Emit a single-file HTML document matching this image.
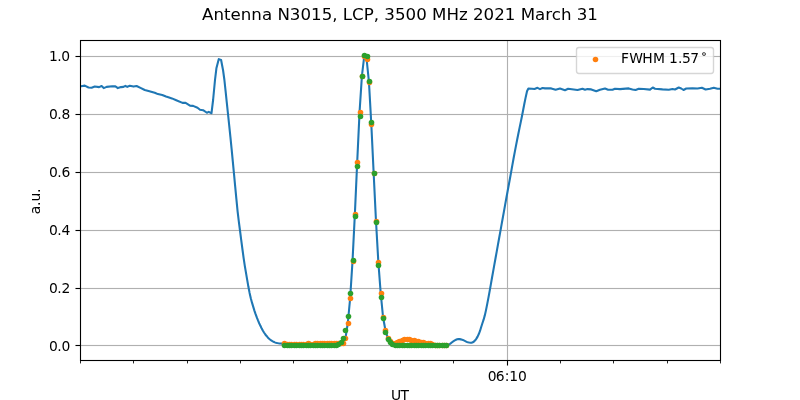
<!DOCTYPE html>
<html lang="en"><head><meta charset="utf-8"><title>Antenna N3015, LCP, 3500 MHz 2021 March 31</title>
<style>html,body{margin:0;padding:0;background:#fff;overflow:hidden}svg{display:block}</style></head>
<body>
<svg width="800" height="400" viewBox="0 0 800 400">
<clipPath id="ax"><rect x="80" y="40" width="640" height="320"/></clipPath>
<rect width="800" height="400" fill="#ffffff"/>
<g><rect x="506" y="40" width="3" height="320" fill="#b0b0b0" fill-opacity="0.063"/><rect x="507" y="40" width="1" height="320" fill="#b0b0b0"/><rect x="80" y="344" width="640" height="3" fill="#b0b0b0" fill-opacity="0.063"/><rect x="80" y="345" width="640" height="1" fill="#b0b0b0"/><rect x="80" y="287" width="640" height="3" fill="#b0b0b0" fill-opacity="0.063"/><rect x="80" y="288" width="640" height="1" fill="#b0b0b0"/><rect x="80" y="229" width="640" height="3" fill="#b0b0b0" fill-opacity="0.063"/><rect x="80" y="230" width="640" height="1" fill="#b0b0b0"/><rect x="80" y="171" width="640" height="3" fill="#b0b0b0" fill-opacity="0.063"/><rect x="80" y="172" width="640" height="1" fill="#b0b0b0"/><rect x="80" y="113" width="640" height="3" fill="#b0b0b0" fill-opacity="0.063"/><rect x="80" y="114" width="640" height="1" fill="#b0b0b0"/><rect x="80" y="55" width="640" height="3" fill="#b0b0b0" fill-opacity="0.063"/><rect x="80" y="56" width="640" height="1" fill="#b0b0b0"/></g>
<g><rect x="80" y="361" width="1" height="2.42" fill="#000" fill-opacity="0.85"/><rect x="133" y="361" width="1" height="2.42" fill="#000" fill-opacity="0.85"/><rect x="187" y="361" width="1" height="2.42" fill="#000" fill-opacity="0.85"/><rect x="240" y="361" width="1" height="2.42" fill="#000" fill-opacity="0.85"/><rect x="293" y="361" width="1" height="2.42" fill="#000" fill-opacity="0.85"/><rect x="347" y="361" width="1" height="2.42" fill="#000" fill-opacity="0.85"/><rect x="400" y="361" width="1" height="2.42" fill="#000" fill-opacity="0.85"/><rect x="453" y="361" width="1" height="2.42" fill="#000" fill-opacity="0.85"/><rect x="507" y="361" width="1" height="4.5" fill="#000"/><rect x="506" y="361" width="3" height="4.5" fill="#000" fill-opacity="0.055"/><rect x="560" y="361" width="1" height="2.42" fill="#000" fill-opacity="0.85"/><rect x="613" y="361" width="1" height="2.42" fill="#000" fill-opacity="0.85"/><rect x="667" y="361" width="1" height="2.42" fill="#000" fill-opacity="0.85"/><rect x="720" y="361" width="1" height="2.42" fill="#000" fill-opacity="0.85"/><rect x="75.5" y="345" width="4.5" height="1" fill="#000"/><rect x="75.5" y="344" width="4.5" height="3" fill="#000" fill-opacity="0.055"/><rect x="75.5" y="288" width="4.5" height="1" fill="#000"/><rect x="75.5" y="287" width="4.5" height="3" fill="#000" fill-opacity="0.055"/><rect x="75.5" y="230" width="4.5" height="1" fill="#000"/><rect x="75.5" y="229" width="4.5" height="3" fill="#000" fill-opacity="0.055"/><rect x="75.5" y="172" width="4.5" height="1" fill="#000"/><rect x="75.5" y="171" width="4.5" height="3" fill="#000" fill-opacity="0.055"/><rect x="75.5" y="114" width="4.5" height="1" fill="#000"/><rect x="75.5" y="113" width="4.5" height="3" fill="#000" fill-opacity="0.055"/><rect x="75.5" y="56" width="4.5" height="1" fill="#000"/><rect x="75.5" y="55" width="4.5" height="3" fill="#000" fill-opacity="0.055"/></g>
<g clip-path="url(#ax)"><polyline points="79,86.3 81,86.25 84.75,85.6 88.5,87.5 91.6,87.75 94.75,86.5 99.1,87.1 101.6,86 103.75,88.1 106.6,86.9 112.25,86.25 115.4,86.4 117.9,88.1 121,87.1 123.5,86.9 125.4,85.9 127.25,86.9 129.75,85.75 133.5,86.6 136.6,86 141,88.1 144.75,90 148.5,91 154.75,92.75 157.9,94.1 162.25,95 166,96.5 169.1,97.5 171.9,98.4 176.25,100.25 182.5,102.9 185.6,102.9 190,105.6 193.1,105.9 197.5,107.75 200,109.75 203.1,110.2 206.9,112.75 208.75,111.9 211.5,113.2 213.1,100 215,80 216.4,68.3 218.8,59.1 221.1,60 223.1,70.5 224.4,80 225.6,91.23 226.8,102.58 228,114 229.2,125.38 230.4,136.96 231.6,148.93 232.8,161.3 234,173.95 235.2,186.65 236.4,199.15 237.6,211.34 238.8,221.49 240,230.5 241.2,239.85 242.4,249 243.6,257.83 244.8,265.9 246,272.94 247.2,279.84 248.4,286.81 249.6,292.92 250.8,298.2 252,302.65 253.2,306.67 254.4,310.57 255.6,314.15 256.8,317.41 258,320.44 259.2,323.26 260.4,325.83 261.6,328.25 262.8,330.5 264,332.5 265.2,334.25 266.4,335.79 267.6,337.17 268.8,338.43 270,339.5 271.2,340.4 272.4,341.17 273.6,341.81 274.8,342.38 276,342.8 277.2,343.1 278.4,343.33 279.6,343.46 280.8,343.56 282,343.6 284.44,343 286.79,344 289.13,344 291.48,344 293.83,344 296.18,344 298.52,344 300.87,344 303.22,344 305.57,344 307.91,343 310.26,344 312.61,344 314.96,343 317.3,343 319.65,343 322,343 324.35,343 326.69,343 329.04,343 331.39,343 333.74,343 336.09,343 338.43,343 340.78,343 343.13,343 345.48,338 347.82,323 350.17,298 352.52,261 354.87,214 357.21,162 359.56,112 361.91,76 364.26,56 366.6,59 368.95,82 371.3,124 373.65,173 375.99,221 378.34,262 380.69,293 383.04,317 385.38,330 387.73,338 390.08,341 392.43,343 394.78,343 397.12,342 399.47,341 401.82,340 404.17,339 406.51,339 408.86,339 411.21,340 413.56,340 415.9,341 418.25,341 420.6,342 422.95,342 425.29,343 427.64,343 429.99,343 432.34,344 434.68,345 437.03,345 439.38,345 441.73,345 444.07,345 446.42,345 447.6,344.85 448.8,344.47 450,343.92 451.2,342.94 452.4,342.03 453.6,341.16 454.8,340.41 456,339.8 457.2,339.29 458.4,339 459.6,339.11 460.8,339.36 462,339.66 463.2,340.08 464.4,340.68 465.6,341.32 466.8,341.93 468,342.29 469.2,342.54 470.4,342.76 471.6,342.71 472.8,342.27 474,341.5 475.2,340.28 476.4,338.65 477.6,336.6 478.8,334.06 480,330.99 481.2,327.04 482.4,323.29 483.6,319.67 484.8,315.4 486,310.12 487.2,304.13 488.4,297.91 489.6,291.38 490.8,284.61 492,277.8 493.2,271.11 494.4,264.44 495.6,257.78 496.8,251.11 498,244.44 499.2,237.78 500.4,231.11 501.6,224.44 502.8,217.78 504,211.1 505.2,204.41 506.4,197.75 507.6,191.19 508.8,184.73 510,178.27 511.2,171.68 512.4,164.94 513.6,158.25 514.8,151.82 516,145.6 517.2,139.51 518.4,133.51 519.6,127.66 520.8,121.88 522,116 523.2,109.81 524.4,103.5 525.6,97.63 526.8,92.18 527,91.3 528.4,88.5 532,88.7 534.5,89 537.5,87.8 540,89.1 542.5,88 545,88.4 551.25,88.4 555.6,89.75 560,88.5 565,90.25 568.1,88.75 577.5,90 582.5,88.75 585,89.75 587.5,89.1 591.25,89.4 596.25,91.25 600,89.75 605,88.5 608.1,89.75 612.5,89.75 615,88.75 620,89.1 628.75,88.4 632.5,89.4 635.6,90 638.75,88.75 643.75,89 650,89.6 652.75,87.5 655,88.75 662.5,89.4 668.75,89.75 672.5,89 675,89.5 678.75,87.5 681.25,88.5 683.5,90 686.25,88.5 692.5,88.25 697.5,88.5 701.9,87.75 705.6,89.5 710,88.75 713.75,87.75 717.5,88.75 722,88.75" fill="none" stroke="#1f77b4" stroke-width="2.083" stroke-linejoin="round" stroke-linecap="square"/>
<g fill="#ff7f0e"><circle cx="284.5" cy="343.5" r="2.78"/><circle cx="287.5" cy="344.5" r="2.78"/><circle cx="289.5" cy="344.5" r="2.78"/><circle cx="291.5" cy="344.5" r="2.78"/><circle cx="294.5" cy="344.5" r="2.78"/><circle cx="296.5" cy="344.5" r="2.78"/><circle cx="299.5" cy="344.5" r="2.78"/><circle cx="301.5" cy="344.5" r="2.78"/><circle cx="303.5" cy="344.5" r="2.78"/><circle cx="306.5" cy="344.5" r="2.78"/><circle cx="308.5" cy="343.5" r="2.78"/><circle cx="310.5" cy="344.5" r="2.78"/><circle cx="313.5" cy="344.5" r="2.78"/><circle cx="315.5" cy="343.5" r="2.78"/><circle cx="317.5" cy="343.5" r="2.78"/><circle cx="320.5" cy="343.5" r="2.78"/><circle cx="322.5" cy="343.5" r="2.78"/><circle cx="324.5" cy="343.5" r="2.78"/><circle cx="327.5" cy="343.5" r="2.78"/><circle cx="329.5" cy="343.5" r="2.78"/><circle cx="331.5" cy="343.5" r="2.78"/><circle cx="334.5" cy="343.5" r="2.78"/><circle cx="336.5" cy="343.5" r="2.78"/><circle cx="338.5" cy="343.5" r="2.78"/><circle cx="341.5" cy="343.5" r="2.78"/><circle cx="343.5" cy="343.5" r="2.78"/><circle cx="345.5" cy="338.5" r="2.78"/><circle cx="348.5" cy="323.5" r="2.78"/><circle cx="350.5" cy="298.5" r="2.78"/><circle cx="353.5" cy="261.5" r="2.78"/><circle cx="355.5" cy="214.5" r="2.78"/><circle cx="357.5" cy="162.5" r="2.78"/><circle cx="360.5" cy="112.5" r="2.78"/><circle cx="362.5" cy="76.5" r="2.78"/><circle cx="364.5" cy="56.5" r="2.78"/><circle cx="367.5" cy="59.5" r="2.78"/><circle cx="369.5" cy="82.5" r="2.78"/><circle cx="371.5" cy="124.5" r="2.78"/><circle cx="374.5" cy="173.5" r="2.78"/><circle cx="376.5" cy="221.5" r="2.78"/><circle cx="378.5" cy="262.5" r="2.78"/><circle cx="381.5" cy="293.5" r="2.78"/><circle cx="383.5" cy="317.5" r="2.78"/><circle cx="385.5" cy="330.5" r="2.78"/><circle cx="388.5" cy="338.5" r="2.78"/><circle cx="390.5" cy="341.5" r="2.78"/><circle cx="392.5" cy="343.5" r="2.78"/><circle cx="395.5" cy="343.5" r="2.78"/><circle cx="397.5" cy="342.5" r="2.78"/><circle cx="399.5" cy="341.5" r="2.78"/><circle cx="402.5" cy="340.5" r="2.78"/><circle cx="404.5" cy="339.5" r="2.78"/><circle cx="407.5" cy="339.5" r="2.78"/><circle cx="409.5" cy="339.5" r="2.78"/><circle cx="411.5" cy="340.5" r="2.78"/><circle cx="414.5" cy="340.5" r="2.78"/><circle cx="416.5" cy="341.5" r="2.78"/><circle cx="418.5" cy="341.5" r="2.78"/><circle cx="421.5" cy="342.5" r="2.78"/><circle cx="423.5" cy="342.5" r="2.78"/><circle cx="425.5" cy="343.5" r="2.78"/><circle cx="428.5" cy="343.5" r="2.78"/><circle cx="430.5" cy="343.5" r="2.78"/><circle cx="432.5" cy="344.5" r="2.78"/><circle cx="435.5" cy="345.5" r="2.78"/><circle cx="437.5" cy="345.5" r="2.78"/><circle cx="439.5" cy="345.5" r="2.78"/><circle cx="442.5" cy="345.5" r="2.78"/><circle cx="444.5" cy="345.5" r="2.78"/><circle cx="446.5" cy="345.5" r="2.78"/></g>
<g fill="#2ca02c"><circle cx="284.5" cy="345.5" r="2.78"/><circle cx="287.5" cy="345.5" r="2.78"/><circle cx="289.5" cy="345.5" r="2.78"/><circle cx="291.5" cy="345.5" r="2.78"/><circle cx="294.5" cy="345.5" r="2.78"/><circle cx="296.5" cy="345.5" r="2.78"/><circle cx="299.5" cy="345.5" r="2.78"/><circle cx="301.5" cy="345.5" r="2.78"/><circle cx="303.5" cy="345.5" r="2.78"/><circle cx="306.5" cy="345.5" r="2.78"/><circle cx="308.5" cy="345.5" r="2.78"/><circle cx="310.5" cy="345.5" r="2.78"/><circle cx="313.5" cy="345.5" r="2.78"/><circle cx="315.5" cy="345.5" r="2.78"/><circle cx="317.5" cy="345.5" r="2.78"/><circle cx="320.5" cy="345.5" r="2.78"/><circle cx="322.5" cy="345.5" r="2.78"/><circle cx="324.5" cy="345.5" r="2.78"/><circle cx="327.5" cy="345.5" r="2.78"/><circle cx="329.5" cy="345.5" r="2.78"/><circle cx="331.5" cy="345.5" r="2.78"/><circle cx="334.5" cy="345.5" r="2.78"/><circle cx="336.5" cy="345.5" r="2.78"/><circle cx="338.5" cy="344.5" r="2.78"/><circle cx="341.5" cy="342.5" r="2.78"/><circle cx="343.5" cy="338.5" r="2.78"/><circle cx="345.5" cy="330.5" r="2.78"/><circle cx="348.5" cy="316.5" r="2.78"/><circle cx="350.5" cy="293.5" r="2.78"/><circle cx="353.5" cy="260.5" r="2.78"/><circle cx="355.5" cy="216.5" r="2.78"/><circle cx="357.5" cy="166.5" r="2.78"/><circle cx="360.5" cy="116.5" r="2.78"/><circle cx="362.5" cy="76.5" r="2.78"/><circle cx="364.5" cy="55.5" r="2.78"/><circle cx="367.5" cy="56.5" r="2.78"/><circle cx="369.5" cy="81.5" r="2.78"/><circle cx="371.5" cy="122.5" r="2.78"/><circle cx="374.5" cy="173.5" r="2.78"/><circle cx="376.5" cy="222.5" r="2.78"/><circle cx="378.5" cy="265.5" r="2.78"/><circle cx="381.5" cy="297.5" r="2.78"/><circle cx="383.5" cy="318.5" r="2.78"/><circle cx="385.5" cy="332.5" r="2.78"/><circle cx="388.5" cy="339.5" r="2.78"/><circle cx="390.5" cy="342.5" r="2.78"/><circle cx="392.5" cy="344.5" r="2.78"/><circle cx="395.5" cy="345.5" r="2.78"/><circle cx="397.5" cy="345.5" r="2.78"/><circle cx="399.5" cy="345.5" r="2.78"/><circle cx="402.5" cy="345.5" r="2.78"/><circle cx="404.5" cy="345.5" r="2.78"/><circle cx="407.5" cy="345.5" r="2.78"/><circle cx="409.5" cy="345.5" r="2.78"/><circle cx="411.5" cy="345.5" r="2.78"/><circle cx="414.5" cy="345.5" r="2.78"/><circle cx="416.5" cy="345.5" r="2.78"/><circle cx="418.5" cy="345.5" r="2.78"/><circle cx="421.5" cy="345.5" r="2.78"/><circle cx="423.5" cy="345.5" r="2.78"/><circle cx="425.5" cy="345.5" r="2.78"/><circle cx="428.5" cy="345.5" r="2.78"/><circle cx="430.5" cy="345.5" r="2.78"/><circle cx="432.5" cy="345.5" r="2.78"/><circle cx="435.5" cy="345.5" r="2.78"/><circle cx="437.5" cy="345.5" r="2.78"/><circle cx="439.5" cy="345.5" r="2.78"/><circle cx="442.5" cy="345.5" r="2.78"/><circle cx="444.5" cy="345.5" r="2.78"/><circle cx="446.5" cy="345.5" r="2.78"/></g>
</g>
<g><rect x="79" y="40" width="3" height="321" fill="#000" fill-opacity="0.055"/><rect x="80" y="40" width="1" height="321" fill="#000"/><rect x="719" y="40" width="3" height="321" fill="#000" fill-opacity="0.055"/><rect x="720" y="40" width="1" height="321" fill="#000"/><rect x="80" y="39" width="641" height="3" fill="#000" fill-opacity="0.055"/><rect x="80" y="40" width="641" height="1" fill="#000"/><rect x="80" y="359" width="641" height="3" fill="#000" fill-opacity="0.055"/><rect x="80" y="360" width="641" height="1" fill="#000"/></g>
<rect x="576.5" y="47.5" width="137" height="26" rx="2.4" ry="2.4" fill="#ffffff" fill-opacity="0.8" stroke="#cccccc" stroke-opacity="0.8" stroke-width="1.389"/>
<circle cx="595.5" cy="59.5" r="2.78" fill="#ff7f0e"/>
<g font-family="'DejaVu Sans','Liberation Sans',sans-serif" fill="#000"><text x="400" y="20" font-size="16.667px" text-anchor="middle">Antenna N3015, LCP, 3500 MHz 2021 March 31</text><text x="48.94 57.15 61.4" y="351" font-size="13.889px">0.0</text><text x="48.94 57.15 61.4" y="293" font-size="13.889px">0.2</text><text x="48.94 57.15 61.4" y="235" font-size="13.889px">0.4</text><text x="48.94 57.15 61.4" y="177" font-size="13.889px">0.6</text><text x="48.94 57.15 61.4" y="119" font-size="13.889px">0.8</text><text x="49.1 57.15 61.3" y="61" font-size="13.889px">1.0</text><text x="487.86 495.8 504.63 509.36 518.1" y="381" font-size="13.889px">06:10</text><text x="390.92 400.6" y="400" font-size="13.889px">UT</text><text x="-13.07 -4.91 -0.4 8.2" y="0" font-size="13.889px" transform="translate(39.75 201.2) rotate(-90)">a.u.</text><text x="621 629.15 642.3 653 665 669.1 678.05 682.1 690.3" y="63" font-size="13.889px">FWHM 1.57<tspan x="701" y="57" font-size="9.722px" stroke="#000" stroke-width="0.2">∘</tspan></text></g>
</svg>
</body></html>
